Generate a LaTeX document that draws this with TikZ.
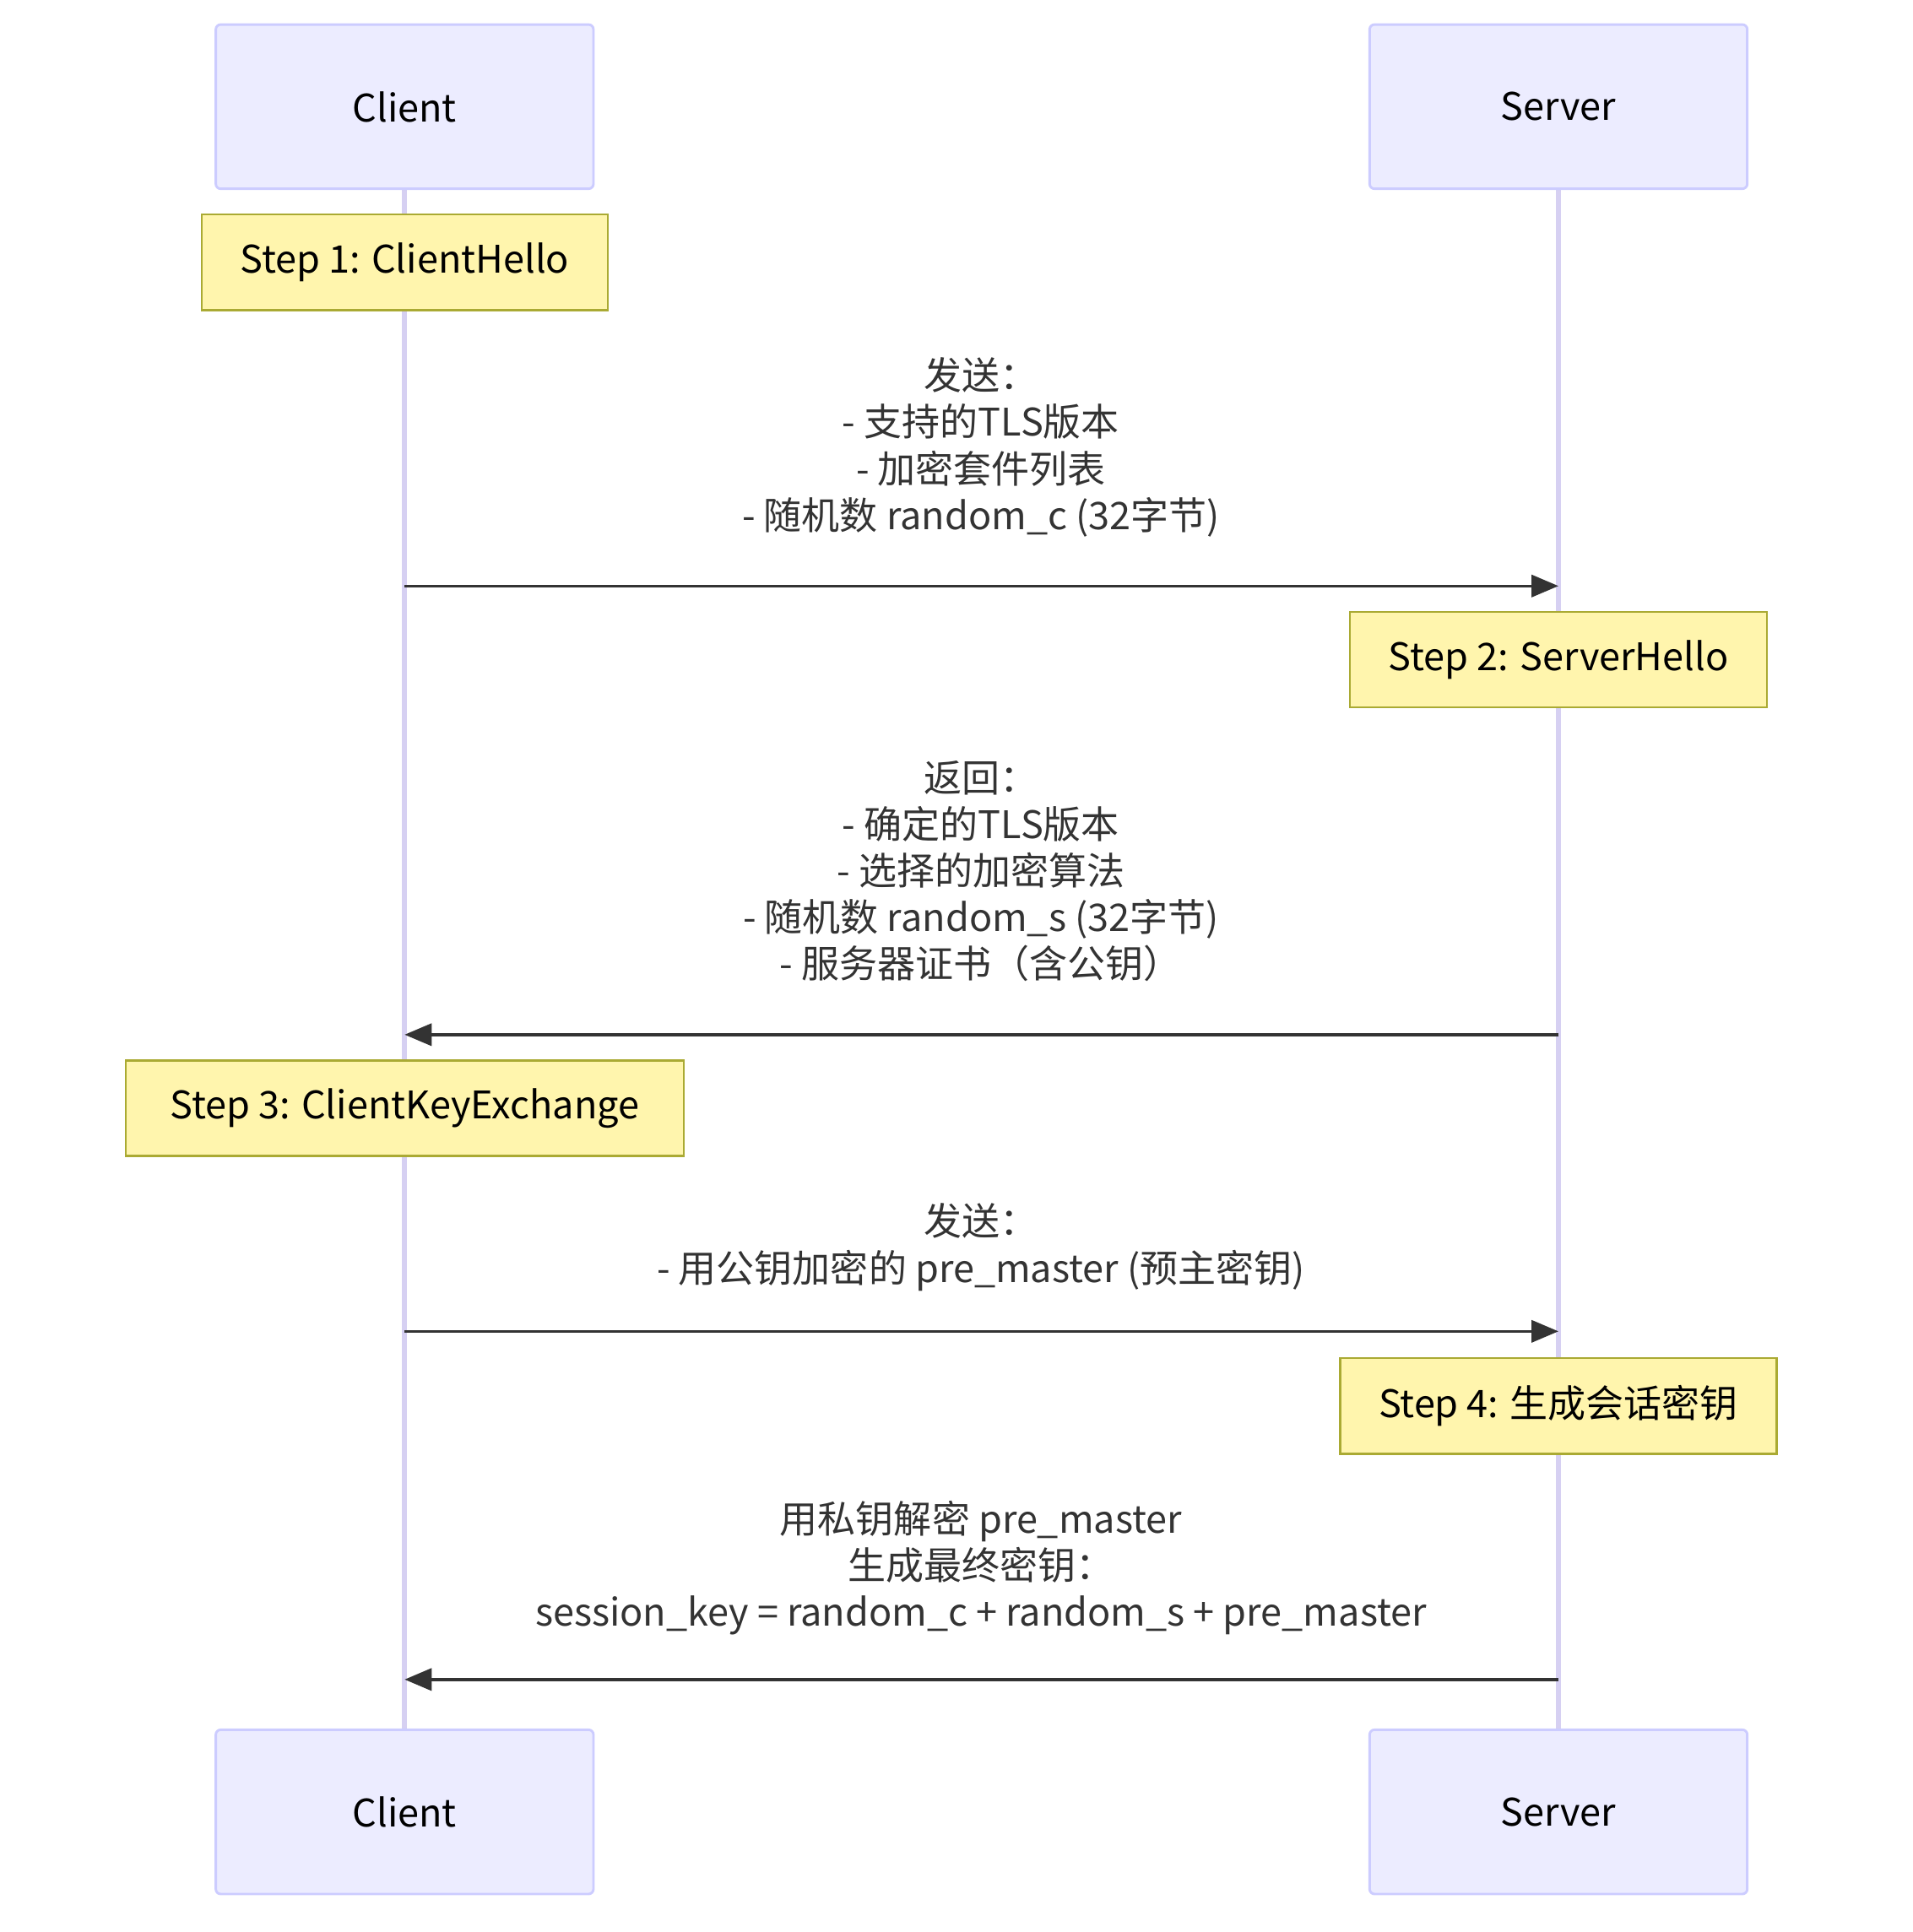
\documentclass[tikz,border=0pt]{standalone}
\usepackage{fontspec}
\setmainfont{Noto Sans CJK SC}
\usetikzlibrary{arrows.meta}
\definecolor{actorfill}{HTML}{ECECFF}
\definecolor{actorline}{HTML}{CCCCFF}
\definecolor{lifeline}{HTML}{D6D0F2}
\definecolor{notefill}{HTML}{FFF5AD}
\definecolor{noteline}{HTML}{AAAA33}
\definecolor{msgline}{HTML}{333333}
\begin{document}
\begin{tikzpicture}[x=0.5pt, y=-0.5pt,
      actor/.style={rectangle, draw=actorline, fill=actorfill, line width=1pt, rounded corners=2pt, minimum width=154pt, minimum height=67pt, font=\fontsize{15.5}{19}\selectfont},
      note/.style={rectangle, draw=noteline, fill=notefill, line width=0.8pt, minimum height=39pt, inner xsep=12pt, font=\fontsize{15.5}{19}\selectfont},
      msg/.style={draw=msgline, line width=1.2pt, -{Triangle[length=11pt, width=9pt]}},
      label/.style={align=center, text=msgline, font=\fontsize{15.5}{19}\selectfont, anchor=south},
      ]
      \useasboundingbox (0,0) rectangle (1560,1576);
      % lifelines
      \coordinate (ctop) at (330,154);
      \coordinate (cbot) at (330,1412);
      \coordinate (stop) at (1271,154);
      \coordinate (sbot) at (1271,1412);
      \draw[lifeline, line width=2pt] (ctop) -- (cbot);
      \draw[lifeline, line width=2pt] (stop) -- (sbot);

      \node[actor] (client) at (330,87) {Client};
      \node[actor] (server) at (1271,87) {Server};
      \node[actor] (client2) at (330,1478) {Client};
      \node[actor] (server2) at (1271,1478) {Server};

      \node[note, minimum width=165.5pt] (step1) at (330,214) {Step 1: ClientHello};
      \node[note, minimum width=170pt] (step2) at (1271,538) {Step 2: ServerHello};
      \node[note, minimum width=227.5pt] (step3) at (330,904) {Step 3: ClientKeyExchange};
      \node[note, minimum width=178pt] (step4) at (1271,1147) {Step 4: 生成会话密钥};

      % messages
      \coordinate (c1) at (330,478);  \coordinate (s1) at (1271,478);
      \coordinate (c2) at (330,844);  \coordinate (s2) at (1271,844);
      \coordinate (c3) at (330,1086); \coordinate (s3) at (1271,1086);
      \coordinate (c4) at (330,1370); \coordinate (s4) at (1271,1370);

      \draw[msg] (c1) -- (s1);
      \node[label] (m1) at (800,445) {发送：\\- 支持的TLS版本\\- 加密套件列表\\- 随机数 random\_c (32字节)};
      \draw[msg] (s2) -- (c2);
      \node[label] (m2) at (800,808) {返回：\\- 确定的TLS版本\\- 选择的加密算法\\- 随机数 random\_s (32字节)\\- 服务器证书（含公钥）};
      \draw[msg] (c3) -- (s3);
      \node[label] (m3) at (800,1060) {发送：\\- 用公钥加密的 pre\_master (预主密钥)};
      \draw[msg] (s4) -- (c4);
      \node[label] (m4) at (800,1341) {用私钥解密 pre\_master\\生成最终密钥：\\session\_key = random\_c + random\_s + pre\_master};
\end{tikzpicture}
\end{document}
